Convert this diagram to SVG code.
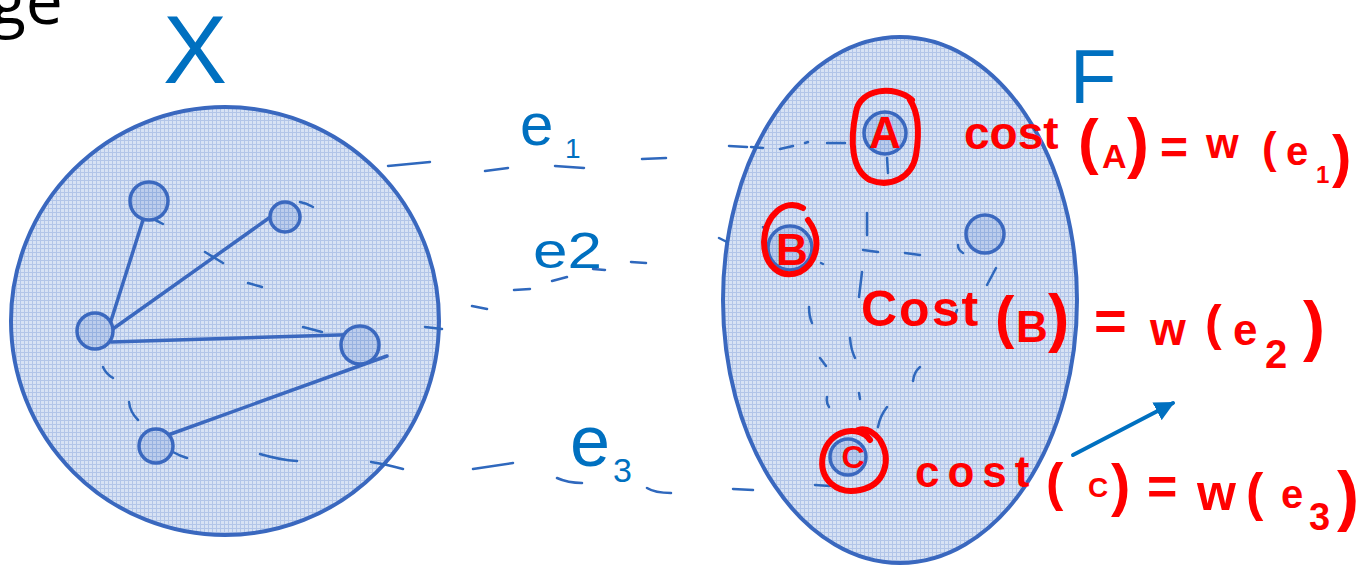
<svg xmlns="http://www.w3.org/2000/svg" width="1367" height="567" viewBox="0 0 1367 567">
<defs>
<pattern id="grid" width="4" height="4" patternUnits="userSpaceOnUse"><rect width="4" height="4" fill="#d7e2f4"/><path d="M0 .5H4M.5 0V4" stroke="#b2c5e8" stroke-width="1"/></pattern>
<pattern id="gridDark" width="4" height="4" patternUnits="userSpaceOnUse"><rect width="4" height="4" fill="#bccdec"/><path d="M0 .5H4M.5 0V4" stroke="#98b2e0" stroke-width="1"/></pattern>
<marker id="ah" viewBox="0 0 10 10" refX="9" refY="5" markerWidth="5" markerHeight="5" orient="auto"><path d="M0 0L10 5L0 10z" fill="#0070c0"/></marker>
</defs>
<style>
.set{fill:url(#grid);stroke:#3a68bf;stroke-width:4}
.node{fill:url(#gridDark);stroke:#3a68bf;stroke-width:3.5}
.edge{stroke:#3a68bf;stroke-width:3.5;stroke-linecap:round;fill:none}
.dash{stroke:#2f68bd;stroke-width:2.5;stroke-linecap:round;fill:none}
.ink{fill:#0070c0;font-family:"Liberation Sans",Arial,sans-serif}
.red{fill:#ff0000;font-family:"Liberation Sans",Arial,sans-serif;font-weight:bold}
.loop{fill:none;stroke:#ff0000;stroke-width:6;stroke-linecap:round;stroke-linejoin:round}
</style>
<rect width="1367" height="567" fill="#ffffff"/>
<text x="-10" y="24" font-family="'Open Sans',sans-serif" font-size="66" fill="#000000">ge</text>

<g id="set-X">
<circle class="set" cx="225" cy="321" r="214"/>
<text class="ink" x="195" y="83" font-size="96" text-anchor="middle">X</text>
</g>
<g id="set-F">
<ellipse class="set" cx="900" cy="300" rx="177" ry="263"/>
<text class="ink" x="1070" y="103" font-size="76">F</text>
</g>

<g id="connectors">
<path class="edge" d="M143 220L103 346M269 218L110 331M111 342L372 334M387 356L168 435"/>
<path class="dash" d="M388 166L430 162M485 171L508 168M555 166L584 168M642 159L666 158M729 146L747 147M751 147L763 148M780 149L793 146M805 143L808 142M827 143L845 143M887 158L888 173"/>
<path class="dash" d="M425 327L442 329M472 306L487 309M514 290L530 289M552 281L567 277M593 269L605 270M631 262L646 263M719 238L727 242"/>
<path class="dash" d="M371 462Q385 464 403 469M473 469L513 463M557 478Q568 483 582 483M647 488Q655 493 671 493M733 489L753 490M815 485L830 486"/>
<path class="dash" d="M260 454Q280 460 297 461M300 202Q306 203 313 207M148 217Q156 220 163 224M205 252L223 263M248 283L262 287M303 327L322 332M103 367Q106 374 113 378M129 402Q130 412 138 420M145 437Q147 444 155 445M173 452Q180 456 187 458"/>
<path class="dash" d="M867 213L867 235M863 250L878 252M905 253L920 255M958 245Q958 250 963 253M996 268L987 285M862 272L859 297M809 307Q809 316 812 323M850 338Q851 350 855 358M820 358L826 366M920 367Q914 372 913 381M957 310L952 323M827 397Q826 403 829 407M859 393L860 399M887 407Q880 416 878 427M821 263L823 264M763 227L765 229"/>
<path d="M1073 455L1173 403" stroke="#0070c0" stroke-width="4" stroke-linecap="round" marker-end="url(#ah)" fill="none"/>
</g>

<g id="x-nodes">
<circle id="x1" class="node" cx="149" cy="201" r="19"/>
<circle id="x2" class="node" cx="285" cy="217" r="15"/>
<circle id="x3" class="node" cx="95" cy="331" r="18"/>
<circle id="x4" class="node" cx="360" cy="345" r="19"/>
<circle id="x5" class="node" cx="156" cy="446" r="17"/>
</g>

<g id="node-A">
<circle class="node" cx="885" cy="133" r="21"/>
<path class="loop" d="M912 100C895 85 860 88 856 112C850 140 851 170 870 180C890 188 912 178 916 155C920 130 918 112 910 100"/>
<text class="red" x="885" y="148" font-size="44" text-anchor="middle">A</text>
</g>
<g id="node-B">
<circle class="node" cx="790" cy="248" r="22"/>
<path class="loop" d="M803 208C785 198 765 215 764 242C764 265 780 280 800 272C818 262 822 238 808 220"/>
<text class="red" x="792" y="265" font-size="44" text-anchor="middle">B</text>
</g>
<g id="node-D">
<circle class="node" cx="985" cy="234" r="19"/>
</g>
<g id="node-C">
<circle class="node" cx="848" cy="457" r="18"/>
<path class="loop" d="M870 440C860 425 830 428 823 455C818 480 838 495 860 490C885 485 892 460 880 440C872 430 864 428 858 430"/>
<text class="red" x="853" y="468" font-size="32" text-anchor="middle">C</text>
</g>

<g id="labels-e">
<text class="ink" x="520" y="145" font-size="60">e<tspan x="565" y="158" font-size="28">1</tspan></text>
<text class="ink" x="533" y="268" font-size="50" textLength="69" lengthAdjust="spacingAndGlyphs">e2</text>
<text class="ink" x="570" y="466" font-size="72">e<tspan x="613" y="482" font-size="34">3</tspan></text>
</g>

<g id="cost-A">
<text class="red"><tspan x="964" y="149" font-size="46">cost</tspan><tspan x="1078" y="162" font-size="62">(</tspan><tspan x="1102" y="168" font-size="34">A</tspan><tspan x="1127" y="165" font-size="66">)</tspan><tspan x="1160" y="164" font-size="48">=</tspan><tspan x="1206" y="158" font-size="42">w</tspan><tspan x="1262" y="163" font-size="44">(</tspan><tspan x="1286" y="165" font-size="40">e</tspan><tspan x="1316" y="183" font-size="24">1</tspan><tspan x="1332" y="176" font-size="58">)</tspan></text>
</g>
<g id="cost-B">
<text class="red"><tspan x="861" y="326" font-size="50" letter-spacing="2">Cost</tspan><tspan x="995" y="337" font-size="58">(</tspan><tspan x="1016" y="342" font-size="44">B</tspan><tspan x="1048" y="340" font-size="64">)</tspan><tspan x="1094" y="340" font-size="56">=</tspan><tspan x="1150" y="345" font-size="46">w</tspan><tspan x="1205" y="340" font-size="50">(</tspan><tspan x="1233" y="345" font-size="44">e</tspan><tspan x="1265" y="368" font-size="40">2</tspan><tspan x="1303" y="348" font-size="66">)</tspan></text>
</g>
<g id="cost-C">
<text class="red"><tspan x="915" y="487" font-size="44" letter-spacing="8">cost</tspan><tspan x="1046" y="500" font-size="52">(</tspan><tspan x="1088" y="497" font-size="28">C</tspan><tspan x="1111" y="505" font-size="58">)</tspan><tspan x="1147" y="504" font-size="52">=</tspan><tspan x="1197" y="510" font-size="50">w</tspan><tspan x="1246" y="510" font-size="52">(</tspan><tspan x="1281" y="508" font-size="40">e</tspan><tspan x="1309" y="530" font-size="38">3</tspan><tspan x="1337" y="518" font-size="66">)</tspan></text>
</g>
</svg>
